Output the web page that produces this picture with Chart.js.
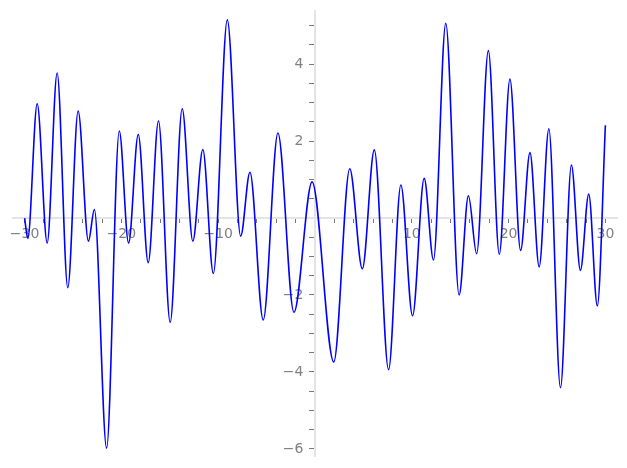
<!DOCTYPE html>
<html>
<head>
<meta charset="utf-8">
<script src="https://cdn.jsdelivr.net/npm/chart.js@4/dist/chart.umd.min.js"></script>
<style>
  body { margin: 0; background: #fff; }
  #wrap { width: 627px; height: 468px; }
</style>
</head>
<body>
<div id="wrap"><canvas id="plot"></canvas></div>
<script>
// x positions of the curve's turning points
const xs = [-30, -29.67, -28.70, -27.67, -26.64, -25.54, -24.47, -23.41, -22.79, -21.53,
  -20.22, -19.26, -18.26, -17.23, -16.17, -14.96, -13.72, -12.62, -11.59, -10.50,
  -9.06, -7.68, -6.72, -5.35, -3.83, -2.18, -0.30, 1.94, 3.59, 4.89,
  6.13, 7.60, 8.87, 10.08, 11.28, 12.24, 13.51, 14.89, 15.85, 16.70,
  17.91, 19.04, 20.14, 21.24, 22.21, 23.16, 24.16, 25.36, 26.49, 27.42,
  28.28, 29.17, 30];
// y values at those points
const ys = [0.0, -0.53, 2.97, -0.65, 3.77, -1.81, 2.78, -0.60, 0.22, -5.98,
  2.26, -0.65, 2.17, -1.16, 2.52, -2.71, 2.84, -0.60, 1.78, -1.44,
  5.15, -0.47, 1.19, -2.65, 2.21, -2.45, 0.94, -3.74, 1.28, -1.32,
  1.77, -3.94, 0.86, -2.54, 1.03, -1.09, 5.06, -2.00, 0.58, -0.93,
  4.35, -0.94, 3.61, -0.84, 1.70, -1.27, 2.32, -4.41, 1.38, -1.36,
  0.62, -2.28, 2.41];
const xLabels = [-30, -20, -10, 10, 20, 30];
const yLabels = [-6, -4, -2, 2, 4];

const fmt = v => (v < 0 ? '\u2212' + Math.abs(v) : String(v));

const ctx = document.getElementById('plot').getContext('2d');
const plot = new Chart(ctx, {
  type: 'line',
  data: {
    datasets: [{
      data: xs.map((x, i) => ({x: x, y: ys[i]})),
      borderColor: '#0000ff',
      borderWidth: 1.6,
      pointRadius: 0,
      fill: false,
      cubicInterpolationMode: 'monotone'
    }]
  },
  options: {
    responsive: true,
    maintainAspectRatio: false,
    animation: false,
    layout: {padding: {left: 13, right: 10, top: 9, bottom: 11}},
    plugins: {legend: {display: false}, tooltip: {enabled: false}},
    scales: {
      x: {
        type: 'linear',
        position: {y: 0},
        min: -31.2,
        max: 31.2,
        grid: {drawOnChartArea: false, tickLength: 4, tickColor: '#777', tickWidth: 1},
        border: {display: true, color: '#e4e4e4', width: 2},
        ticks: {
          stepSize: 2,
          includeBounds: false,
          autoSkip: false,
          maxRotation: 0,
          padding: 4,
          color: '#808080',
          font: {family: 'DejaVu Sans', size: 14},
          callback: v => (xLabels.includes(v) ? fmt(v) : '')
        }
      },
      y: {
        type: 'linear',
        position: {x: 0},
        min: -6.2,
        max: 5.37,
        grid: {drawOnChartArea: false, tickLength: 5, tickColor: '#777', tickWidth: 1},
        border: {display: true, color: '#e4e4e4', width: 2},
        ticks: {
          stepSize: 0.5,
          includeBounds: false,
          autoSkip: false,
          color: '#808080',
          font: {family: 'DejaVu Sans', size: 14},
          // trailing spaces keep the label clear of the tick mark
          callback: v => (yLabels.includes(v) ? fmt(v) + '  \u2009' : '')
        }
      }
    }
  }
});
</script>
</body>
</html>
